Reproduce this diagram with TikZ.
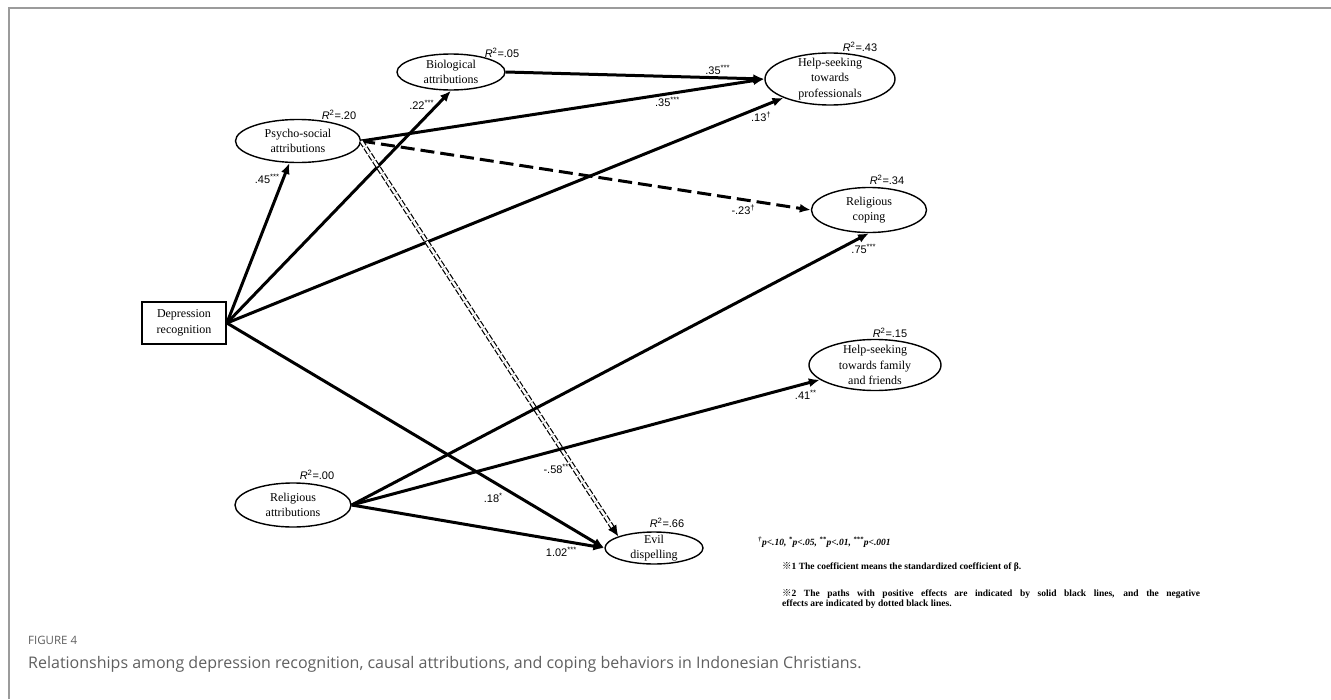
\documentclass[tikz,border=0pt]{standalone}
\usepackage{fontspec}
\setmainfont{Liberation Serif}
\newfontfamily\coeffont{Liberation Sans}
\newfontfamily\capfont{Open Sans}
\newfontfamily\markfont{Noto Sans CJK SC}
\usetikzlibrary{arrows.meta,shapes.geometric}

\definecolor{framegray}{RGB}{155,155,155}
\definecolor{capgray}{RGB}{95,95,95}

\newcommand{\rsqval}[1]{{\itshape R}\textsuperscript{2}=#1}

\begin{document}
\begin{tikzpicture}[x=1pt,y=-1pt,>={Latex[length=11pt,width=9pt]},
  var/.style={ellipse, draw, line width=1.4pt, inner xsep=0pt, inner ysep=-12pt, align=center, font=\fontsize{12}{15.5}\selectfont},
  obs/.style={rectangle, draw, line width=1.8pt, inner sep=0pt, minimum width=84pt, minimum height=42pt, align=center, font=\fontsize{12}{16}\selectfont},
  effect/.style={line width=3pt},
  negdash/.style={dash pattern=on 14pt off 6pt},
  negdouble/.style={-{Latex[length=11pt,width=10pt]}, line width=1.2pt, double, double distance=2.4pt, dash pattern=on 6pt off 2pt},
  coef/.style={font=\coeffont\fontsize{11}{13}\selectfont, inner sep=2pt},
  rsq/.style={font=\coeffont\fontsize{11}{13}\selectfont, inner sep=0pt},
  notetext/.style={font=\bfseries\fontsize{9.5}{10.5}\selectfont, inner sep=0pt}]

\useasboundingbox (0,0) rectangle (1331,699);
\draw[framegray, line width=2pt] (9,699) -- (9,8) -- (1331,8);

\node[obs] (dep) at (184,323) {Depression\\recognition};
\node[var, minimum width=125pt, minimum height=43pt] (psy) at (298,141) {Psycho-social\\attributions};
\node[var, minimum width=108pt, minimum height=36pt] (bio) at (451,72) {Biological\\attributions};
\node[var, minimum width=130pt, minimum height=52pt] (hsp) at (830,79) {Help-seeking\\towards\\professionals};
\node[var, minimum width=115pt, minimum height=45pt] (rcop) at (869,210) {Religious\\coping};
\node[var, minimum width=132pt, minimum height=51pt] (hsf) at (875,365) {Help-seeking\\towards family\\and friends};
\node[var, minimum width=116pt, minimum height=44pt] (rel) at (293,505) {Religious\\attributions};
\node[var, minimum width=98pt, minimum height=32pt] (evil) at (654,548) {Evil\\dispelling};

\node[rsq] (psyr) at (339,115) {\rsqval{.20}};
\node[rsq] (bior) at (502,53) {\rsqval{.05}};
\node[rsq] (hspr) at (860,47) {\rsqval{.43}};
\node[rsq] (rcopr) at (887,180) {\rsqval{.34}};
\node[rsq] (hsfr) at (890,333) {\rsqval{.15}};
\node[rsq] (relr) at (317,475) {\rsqval{.00}};
\node[rsq] (evilr) at (667,523) {\rsqval{.66}};

\path[->, effect]
  (dep.east) edge node[coef, pos=.9, left] {.45\textsuperscript{***}} (psy)
             edge node[coef, pos=.94, left] {.22\textsuperscript{***}} (bio.south)
             edge node[coef, pos=.96, below=2pt] {.13\textsuperscript{†}} (hsp)
             edge node[coef, pos=.74, below left] {.18\textsuperscript{*}} (evil.west)
  (psy.east) edge node[coef, pos=.76, below] {.35\textsuperscript{***}} (hsp.west)
             edge[negdash] node[coef, pos=.85, below=2pt] {-.23\textsuperscript{†}} (rcop.west)
             edge[negdouble] node[coef, pos=.83, left] {-.58\textsuperscript{***}} (evil.162)
  (bio.east) edge node[coef, pos=.82, above] {.35\textsuperscript{***}} (hsp.west)
  (rel.east) edge node[coef, pos=.99, below=5pt] {.75\textsuperscript{***}} (rcop.south)
             edge node[coef, pos=.97, below=3pt] {.41\textsuperscript{**}} (hsf)
             edge node[coef, pos=.83, below=3pt] {1.02\textsuperscript{***}} (evil.west);

\node[notetext, anchor=west] (sig) at (758,542) {\itshape\textsuperscript{†}p<.10, \textsuperscript{*}p<.05, \textsuperscript{**}p<.01, \textsuperscript{***}p<.001};
\node[notetext, anchor=west] (note1) at (782,567) {{\markfont ※}1 The coefficient means the standardized coefficient of β.};
\node[notetext, anchor=north west, text width=418pt, align=justify] (note2) at (782,589) {{\markfont ※}2 The paths with positive effects are indicated by solid black lines, and the negative\linebreak effects are indicated by dotted black lines.};

\node[anchor=west, font=\capfont\fontsize{11.5}{13}\selectfont, text=capgray, inner sep=0pt] (fig) at (28,640) {FIGURE 4};
\node[anchor=west, font=\capfont\fontsize{16}{18}\selectfont, text=capgray, inner sep=0pt] (cap) at (28,664) {Relationships among depression recognition, causal attributions, and coping behaviors in Indonesian Christians.};
\end{tikzpicture}
\end{document}
